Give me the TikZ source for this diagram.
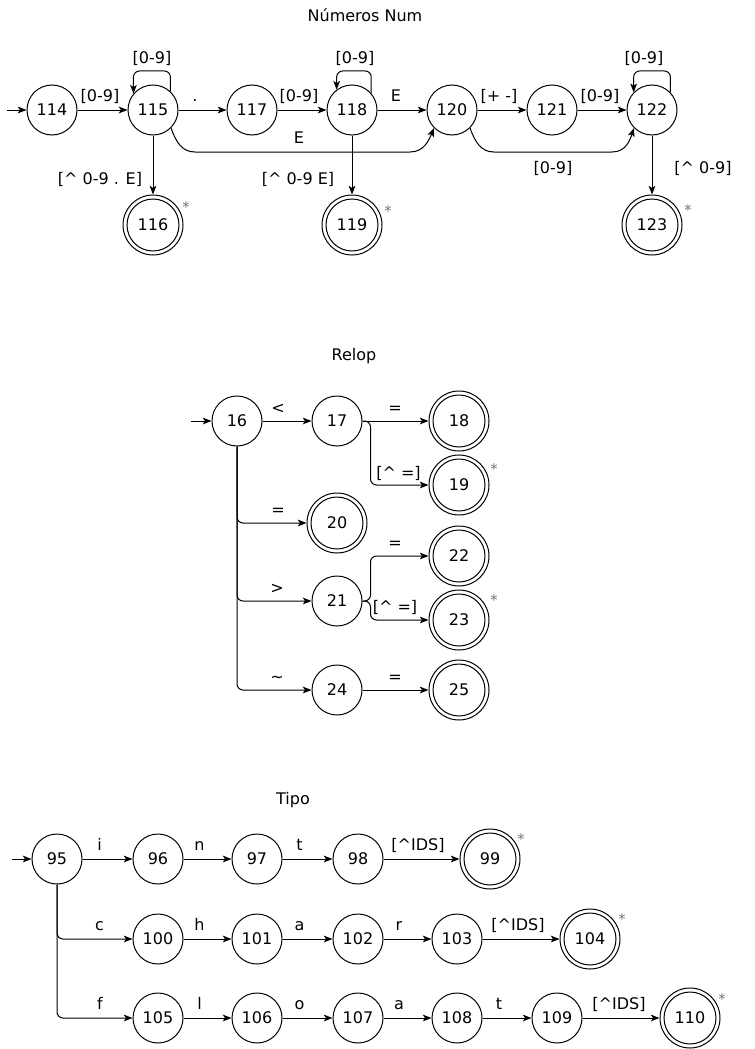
\documentclass[tikz,border=0pt]{standalone}
\usepackage{fontspec}
\setmainfont{DejaVu Sans}
\usetikzlibrary{arrows.meta}
\begin{document}
\begin{tikzpicture}[x=0.75pt,y=-0.75pt,
  font=\fontsize{12pt}{14pt}\selectfont,
  st/.style={circle,draw,line width=0.75pt,minimum size=37.5pt,inner sep=0pt},
  fst/.style={circle,draw,line width=0.75pt,minimum size=45pt,inner sep=0pt,
     path picture={\draw[line width=0.75pt] (path picture bounding box.center) circle[radius=19.5pt];}},
  conn/.style={draw,line width=0.75pt,-{Stealth[length=6.5pt,width=5pt,inset=1.6pt]}},
  ortho/.style={conn,rounded corners=4.5pt},
  lbl/.style={anchor=base,inner sep=0pt},
  ttl/.style={anchor=base,inner sep=0pt},
  ast/.style={inner sep=0pt,font=\fontsize{11pt}{12pt}\selectfont,text=black!55}]
\fill[white] (0,0) rectangle (754,1049);
\useasboundingbox (0,0) rectangle (754,1049);

% ===== Numeros Num =====
\node[ttl] (t1) at (365,21.7) {Números Num};
\node[st] (n114) at (52,110) {114};
\node[st] (n115) at (153,110) {115};
\node[st] (n117) at (252,110) {117};
\node[st] (n118) at (352,110) {118};
\node[st] (n120) at (452,110) {120};
\node[st] (n121) at (552,110) {121};
\node[st] (n122) at (652,110) {122};
\node[fst] (n116) at (153,225) {116};
\node[fst] (n119) at (352,225) {119};
\node[fst] (n123) at (652,225) {123};
\coordinate (i114) at (7,110);
\draw[conn] (i114) -- (n114);
\draw[conn] (n114) -- (n115);
\draw[conn] (n115) -- (n117);
\draw[conn] (n117) -- (n118);
\draw[conn] (n118) -- (n120);
\draw[conn] (n120) -- (n121);
\draw[conn] (n121) -- (n122);
\draw[conn] (n115) -- (n116);
\draw[conn] (n118) -- (n119);
\draw[conn] (n122) -- (n123);
\draw[ortho] (n115.47) |- (153,71) -| (n115.140);
\draw[ortho] (n118.41) |- (352,71) -| (n118.127);
\draw[ortho] (n122.44) |- (652,71) -| (n122.136);
\draw[conn] (n115.-45) .. controls (176,142) and (182,152) .. (195,152) -- (410,152) .. controls (424,152) and (429,140) .. (n120.-135);
\draw[conn] (n120.-45) .. controls (475,142) and (481,152) .. (494,152) -- (612,152) .. controls (626,152) and (630,140) .. (n122.-135);
\node[lbl] (l1) at (100,102) {[0-9]};
\node[lbl] (l2) at (195,102) {.};
\node[lbl] (l3) at (299,102) {[0-9]};
\node[lbl] (l4) at (396,102) {E};
\node[lbl] (l5) at (499,102) {[+ -]};
\node[lbl] (l6) at (600,102) {[0-9]};
\node[lbl] (l7) at (152,64) {[0-9]};
\node[lbl] (l8) at (355,64) {[0-9]};
\node[lbl] (l9) at (644,64) {[0-9]};
\node[lbl] (l10) at (299,143) {E};
\node[lbl] (l11) at (553,173) {[0-9]};
\node[lbl] (l12) at (100,184) {[\textasciicircum{} 0-9 . E]};
\node[lbl] (l13) at (298,184) {[\textasciicircum{} 0-9 E]};
\node[lbl] (l14) at (703,173) {[\textasciicircum{} 0-9]};
\node[ast] (a116) at (186,207) {*};
\node[ast] (a119) at (388,211) {*};
\node[ast] (a123) at (688,210) {*};

% ===== Relop =====
\node[ttl] (t2) at (354,360.7) {Relop};
\node[st] (n16) at (237,421) {16};
\node[st] (n17) at (337,421) {17};
\node[fst] (n18) at (459,421) {18};
\node[fst] (n19) at (459,485) {19};
\node[fst] (n20) at (337,523) {20};
\node[st] (n21) at (337,601) {21};
\node[fst] (n22) at (459,556) {22};
\node[fst] (n23) at (459,620) {23};
\node[st] (n24) at (337,690) {24};
\node[fst] (n25) at (459,690) {25};
\coordinate (i16) at (191,421);
\draw[conn] (i16) -- (n16);
\draw[conn] (n16) -- (n17);
\draw[conn] (n17) -- (n18);
\draw[ortho] (n17.east) -- ++(8,0) |- (n19.west);
\draw[ortho] (n16.south) |- (n20.west);
\draw[ortho] (n16.south) |- (n21.west);
\draw[ortho] (n16.south) |- (n24.west);
\draw[ortho] (n21.east) -- ++(8,0) |- (n22.west);
\draw[ortho] (n21.east) -- ++(8,0) |- (n23.west);
\draw[conn] (n24) -- (n25);
\node[lbl] (r1) at (278,413) {<};
\node[lbl] (r2) at (395,413) {=};
\node[lbl] (r3) at (398.5,478) {[\textasciicircum{} =]};
\node[lbl] (r4) at (278,515) {=};
\node[lbl] (r5) at (277,593) {>};
\node[lbl] (r6) at (395,548) {=};
\node[lbl] (r7) at (395,612) {[\textasciicircum{} =]};
\node[lbl] (r8) at (277,682) {\textasciitilde};
\node[lbl] (r9) at (395,682) {=};
\node[ast] (a19) at (494,469) {*};
\node[ast] (a23) at (494,600) {*};

% ===== Tipo =====
\node[ttl] (t3) at (293,804) {Tipo};
\node[st] (n95) at (57,859) {95};
\node[st] (n96) at (158,859) {96};
\node[st] (n97) at (257,859) {97};
\node[st] (n98) at (358,859) {98};
\node[fst] (n99) at (490,859) {99};
\node[st] (n100) at (158,939) {100};
\node[st] (n101) at (257,939) {101};
\node[st] (n102) at (358,939) {102};
\node[st] (n103) at (457,939) {103};
\node[fst] (n104) at (590,939) {104};
\node[st] (n105) at (158,1018) {105};
\node[st] (n106) at (257,1018) {106};
\node[st] (n107) at (358,1018) {107};
\node[st] (n108) at (457,1018) {108};
\node[st] (n109) at (557,1018) {109};
\node[fst] (n110) at (690,1018) {110};
\coordinate (i95) at (12,859);
\draw[conn] (i95) -- (n95);
\draw[conn] (n95) -- (n96);
\draw[conn] (n96) -- (n97);
\draw[conn] (n97) -- (n98);
\draw[conn] (n98) -- (n99);
\draw[ortho] (n95.south) |- (n100.west);
\draw[conn] (n100) -- (n101);
\draw[conn] (n101) -- (n102);
\draw[conn] (n102) -- (n103);
\draw[conn] (n103) -- (n104);
\draw[ortho] (n95.south) |- (n105.west);
\draw[conn] (n105) -- (n106);
\draw[conn] (n106) -- (n107);
\draw[conn] (n107) -- (n108);
\draw[conn] (n108) -- (n109);
\draw[conn] (n109) -- (n110);
\node[lbl] (p1) at (99.5,850) {i};
\node[lbl] (p2) at (199.5,850) {n};
\node[lbl] (p3) at (299.5,850) {t};
\node[lbl] (p4) at (418,850) {[\textasciicircum IDS]};
\node[lbl] (p5) at (99.5,930) {c};
\node[lbl] (p6) at (199.5,930) {h};
\node[lbl] (p7) at (299.5,930) {a};
\node[lbl] (p8) at (399,930) {r};
\node[lbl] (p9) at (518,930) {[\textasciicircum IDS]};
\node[lbl] (p10) at (100,1009) {f};
\node[lbl] (p11) at (199.5,1009) {l};
\node[lbl] (p12) at (299.5,1009) {o};
\node[lbl] (p13) at (399,1009) {a};
\node[lbl] (p14) at (499,1009) {t};
\node[lbl] (p15) at (619,1009) {[\textasciicircum IDS]};
\node[ast] (a99) at (521,839) {*};
\node[ast] (a104) at (622,919) {*};
\node[ast] (a110) at (722,999) {*};
\end{tikzpicture}
\end{document}
